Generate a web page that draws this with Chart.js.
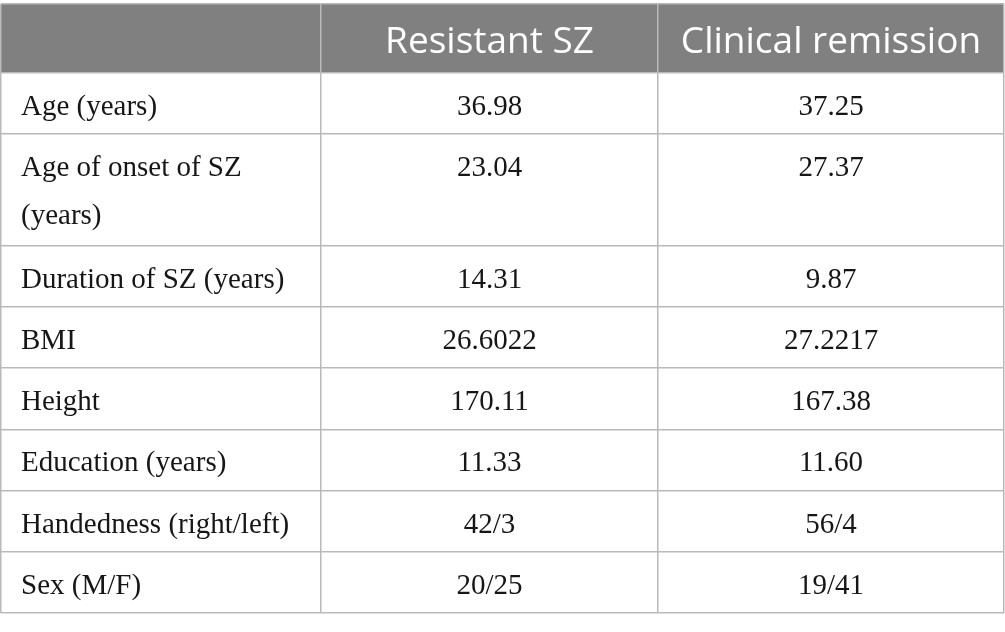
<!DOCTYPE html>
<html>
<head>
<meta charset="utf-8">
<script src="https://cdn.jsdelivr.net/npm/chart.js@4/dist/chart.umd.min.js"></script>
<style>
  html, body { margin: 0; padding: 0; background: #fff; }
  #wrap { width: 1005px; height: 632px; }
</style>
</head>
<body>
<div id="wrap"><canvas id="table"></canvas></div>
<script>
// table content
var columnHeaders = ['', 'Resistant SZ', 'Clinical remission'];
var rowLabels = [
  ['Age (years)'],
  ['Age of onset of SZ', '(years)'],
  ['Duration of SZ (years)'],
  ['BMI'],
  ['Height'],
  ['Education (years)'],
  ['Handedness (right/left)'],
  ['Sex (M/F)']
];
var resistantSZ = ['36.98', '23.04', '14.31', '26.6022', '170.11', '11.33', '42/3', '20/25'];
var clinicalRemission = ['37.25', '27.37', '9.87', '27.2217', '167.38', '11.60', '56/4', '19/41'];

// layout (reference pixels)
var COL_WIDTHS = [320, 337, 346];
var HEADER_H = 69;
var CELL_PAD = 10.8;
var LINE_STEP = 50.4;
var TEXT_LINE = 48;
var BASELINE = 42;
var LEFT_INSET = 20;

var colEdges = [0];
COL_WIDTHS.forEach(function (w, i) { colEdges.push(colEdges[i] + w); });

var rowEdges = [0, HEADER_H];
rowLabels.forEach(function (lines, i) {
  rowEdges.push(rowEdges[i + 1] + CELL_PAD + lines.length * LINE_STEP);
});
var tableW = colEdges[colEdges.length - 1];
var tableH = rowEdges[rowEdges.length - 1];

function cellPoints(col, texts) {
  return texts.map(function (t, i) {
    var x = col === 0 ? colEdges[0] + LEFT_INSET : (colEdges[col] + colEdges[col + 1]) / 2;
    return { x: x, y: rowEdges[i + 1] + BASELINE, text: t };
  });
}

var columns = [rowLabels, resistantSZ, clinicalRemission];
var datasets = columns.map(function (texts, col) {
  return {
    label: columnHeaders[col] || 'Variable',
    data: cellPoints(col, texts),
    pointRadius: 0,
    align: col === 0 ? 'left' : 'center'
  };
});

var tablePlugin = {
  id: 'tableCells',
  beforeDraw: function (chart) {
    var ctx = chart.ctx, x = chart.scales.x, y = chart.scales.y;
    ctx.save();
    ctx.fillStyle = '#7f807f';
    ctx.fillRect(x.getPixelForValue(0), y.getPixelForValue(0),
      x.getPixelForValue(tableW) - x.getPixelForValue(0),
      y.getPixelForValue(HEADER_H) - y.getPixelForValue(0));
    ctx.restore();
  },
  afterDatasetsDraw: function (chart) {
    var ctx = chart.ctx, x = chart.scales.x, y = chart.scales.y;
    ctx.save();
    // header texts
    ctx.fillStyle = '#ffffff';
    ctx.font = '37px "Open Sans"';
    ctx.textAlign = 'center';
    ctx.textBaseline = 'alphabetic';
    columnHeaders.forEach(function (h, col) {
      if (!h) return;
      var cx = (colEdges[col] + colEdges[col + 1]) / 2;
      ctx.fillText(h, x.getPixelForValue(cx), y.getPixelForValue(BASELINE + 6.5));
    });
    // body cells
    ctx.fillStyle = '#161616';
    ctx.font = '29px "Liberation Serif"';
    chart.data.datasets.forEach(function (ds, di) {
      var meta = chart.getDatasetMeta(di);
      ctx.textAlign = ds.align;
      meta.data.forEach(function (pt, i) {
        var t = ds.data[i].text;
        var lines = Array.isArray(t) ? t : [t];
        lines.forEach(function (line, k) {
          ctx.fillText(line, pt.x, pt.y + k * TEXT_LINE * (y.height / tableH));
        });
      });
    });
    ctx.restore();
  }
};

new Chart(document.getElementById('table'), {
  type: 'scatter',
  data: { datasets: datasets },
  options: {
    responsive: true,
    maintainAspectRatio: false,
    animation: false,
    events: [],
    layout: { padding: { top: 4, bottom: 19, left: 1, right: 1 } },
    plugins: { legend: { display: false }, tooltip: { enabled: false } },
    scales: {
      x: {
        type: 'linear', min: 0, max: tableW,
        afterBuildTicks: function (s) { s.ticks = colEdges.map(function (v) { return { value: v }; }); },
        ticks: { display: false },
        grid: { color: '#b9b9b9', lineWidth: 1.5, drawTicks: false },
        border: { display: false }
      },
      y: {
        type: 'linear', min: 0, max: tableH, reverse: true,
        afterBuildTicks: function (s) { s.ticks = rowEdges.map(function (v) { return { value: v }; }); },
        ticks: { display: false },
        grid: { color: '#b9b9b9', lineWidth: 1.5, drawTicks: false },
        border: { display: false }
      }
    }
  },
  plugins: [tablePlugin]
});
</script>
</body>
</html>
